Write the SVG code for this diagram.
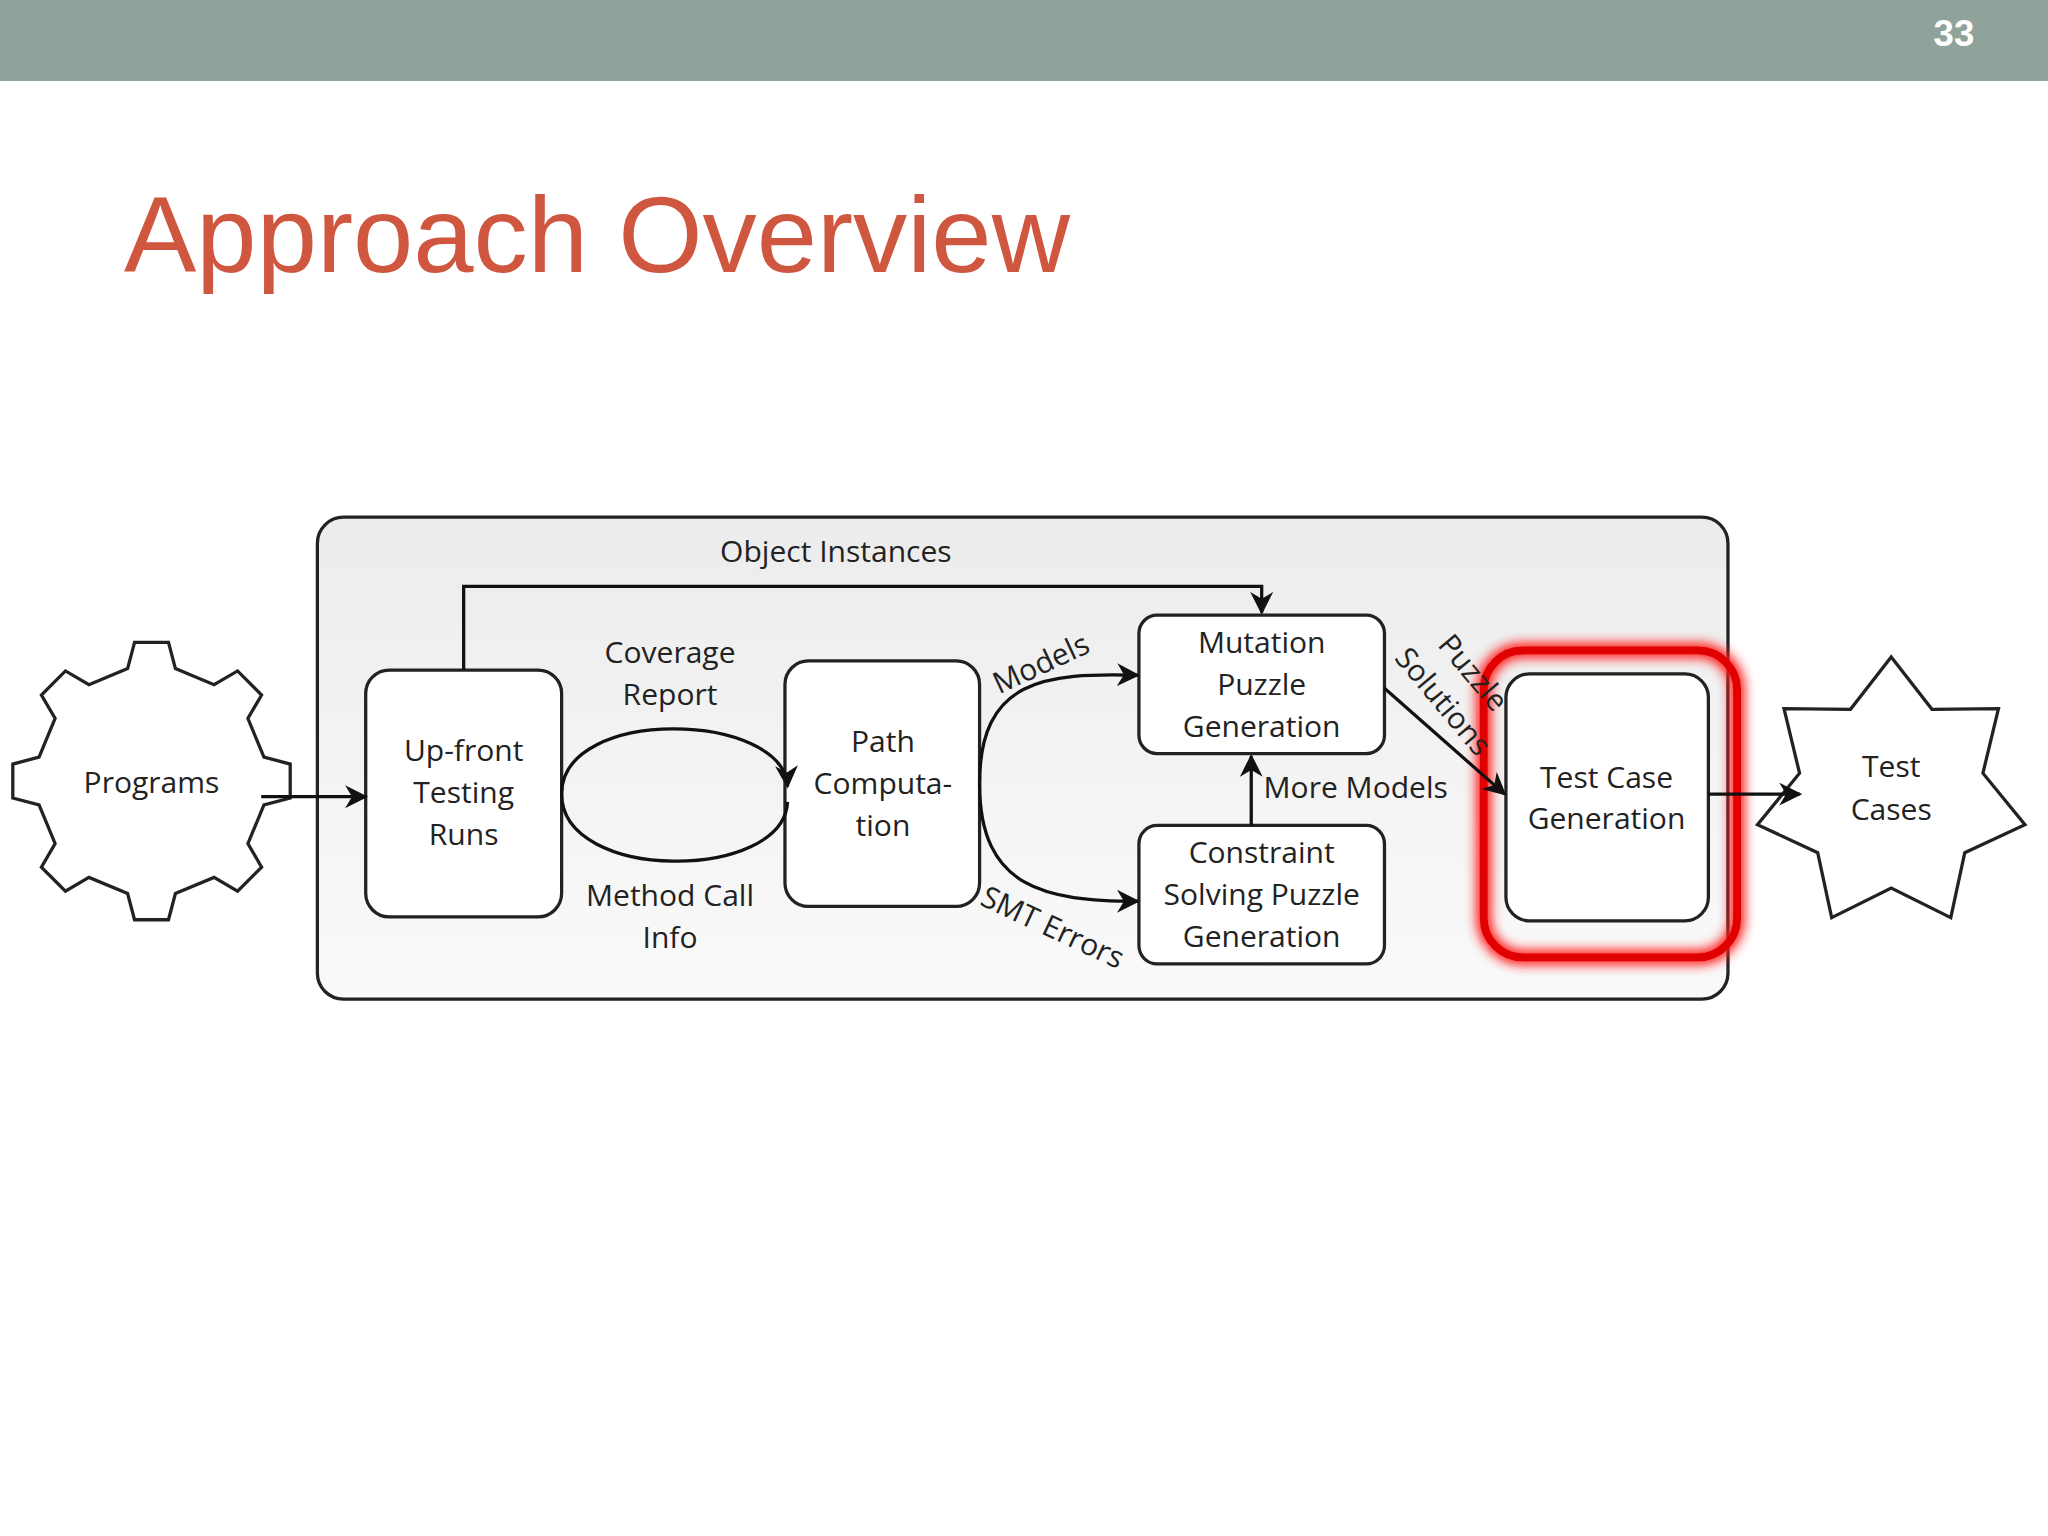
<svg xmlns="http://www.w3.org/2000/svg" width="2048" height="1536" viewBox="0 0 2048 1536">
<defs>
<linearGradient id="bg" x1="0" y1="0" x2="0" y2="1"><stop offset="0" stop-color="#ececec"/><stop offset="1" stop-color="#fafafa"/></linearGradient>
<marker id="ar" viewBox="0 0 10 10" refX="9" refY="5" markerWidth="7" markerHeight="7" orient="auto-start-reverse"><path d="M0,0 L10,5 L0,10 L3,5 z" fill="#111"/></marker>
<filter id="glow" x="-20%" y="-20%" width="140%" height="140%"><feGaussianBlur stdDeviation="4"/></filter>
</defs>
<style>
.n{fill:#fff;stroke:#222;stroke-width:2.5}
.t{font-family:"Open Sans","DejaVu Sans",sans-serif;font-size:23px;fill:#222;text-anchor:middle}
.c{fill:none;stroke:#111;stroke-width:2.5}
</style>
<rect width="2048" height="1536" fill="#fff"/>
<g transform="scale(1.3061)">
<rect x="0" y="0" width="1568" height="62" fill="#8fa39a"/>
<text x="1496" y="35" font-family="Liberation Sans,sans-serif" font-size="28" font-weight="bold" fill="#fff" text-anchor="middle">33</text>
<text x="95" y="208" font-family="Liberation Sans,Arial,sans-serif" font-size="83" fill="#d0573f">Approach Overview</text>
<g id="container"><rect x="243" y="396" width="1080" height="369" rx="20" fill="url(#bg)" stroke="#222" stroke-width="2.5"/></g>
<g id="programs">
<polygon class="n" points="97.7,511.9 103,491.8 129,491.8 134.3,511.9 163.9,524.2 181.9,513.7 200.3,532.1 189.8,550.1 202.1,579.7 222.2,585 222.2,611 202.1,616.3 189.8,645.9 200.3,663.9 181.9,682.3 163.9,671.8 134.3,684.1 129,704.2 103,704.2 97.7,684.1 68.1,671.8 50.1,682.3 31.7,663.9 42.2,645.9 29.9,616.3 9.8,611 9.8,585 29.9,579.7 42.2,550.1 31.7,532.1 50.1,513.7 68.1,524.2"/>
<text class="t" x="116" y="607">Programs</text>
</g>
<g id="upfront"><rect class="n" x="280" y="513" width="150" height="189" rx="18"/>
<text class="t" x="355" y="583">Up-front</text><text class="t" x="355" y="615">Testing</text><text class="t" x="355" y="647">Runs</text></g>
<g id="path"><rect class="n" x="601" y="506" width="149" height="188" rx="18"/>
<text class="t" x="676" y="576">Path</text><text class="t" x="676" y="608">Computa-</text><text class="t" x="676" y="640">tion</text></g>
<g id="mutation"><rect class="n" x="872" y="471" width="188" height="106" rx="14"/>
<text class="t" x="966" y="500">Mutation</text><text class="t" x="966" y="532">Puzzle</text><text class="t" x="966" y="564">Generation</text></g>
<g id="constraint"><rect class="n" x="872" y="632" width="188" height="106" rx="14"/>
<text class="t" x="966" y="661">Constraint</text><text class="t" x="966" y="693">Solving Puzzle</text><text class="t" x="966" y="725">Generation</text></g>
<g id="testgen">
<rect x="1136" y="498" width="194" height="235" rx="30" fill="none" stroke="#ff2020" stroke-width="12" filter="url(#glow)"/>
<rect x="1136" y="498" width="194" height="235" rx="30" fill="none" stroke="#e00000" stroke-width="6"/>
<rect class="n" x="1153" y="516" width="155" height="189" rx="18"/>
<text class="t" x="1230" y="603">Test Case</text><text class="t" x="1230" y="635">Generation</text></g>
<g id="testcases"><polygon class="n" points="1448,503 1479.2,543.1 1530.1,542.5 1518.2,592 1550.4,631.4 1504.3,652.9 1493.6,702.6 1448,680 1402.4,702.6 1391.7,652.9 1345.6,631.4 1377.8,592 1365.9,542.5 1416.8,543.1"/>
<text class="t" x="1448" y="595">Test</text><text class="t" x="1448" y="628">Cases</text></g>
<g id="connectors">
<path class="c" d="M200,610 H280" marker-end="url(#ar)"/>
<path class="c" d="M355,513 V449 H966 V469" marker-end="url(#ar)"/>
<path class="c" d="M430,608 C430,540 600,545 603,602" marker-end="url(#ar)"/>
<path class="c" d="M430,608 C430,676 600,675 603,614"/>
<path class="c" d="M750,600 C750,520 800,515 871,517" marker-end="url(#ar)"/>
<path class="c" d="M750,600 C750,680 800,690 871,690" marker-end="url(#ar)"/>
<path class="c" d="M958,632 V579" marker-end="url(#ar)"/>
<path class="c" d="M1060,527 L1152,608" marker-end="url(#ar)"/>
<path class="c" d="M1308,608 H1378" marker-end="url(#ar)"/>
</g>
<g id="labels">
<text class="t" x="640" y="430">Object Instances</text>
<text class="t" x="513" y="508">Coverage</text><text class="t" x="513" y="540">Report</text>
<text class="t" x="513" y="694">Method Call</text><text class="t" x="513" y="726">Info</text>
<text class="t" x="797" y="516" transform="rotate(-25 797 508)">Models</text>
<text class="t" x="806" y="718" transform="rotate(25 806 710)">SMT Errors</text>
<text class="t" x="1038" y="611">More Models</text>
<text class="t" x="1128" y="523" transform="rotate(50 1128 515)">Puzzle</text>
<text class="t" x="1105" y="545" transform="rotate(50 1105 537)">Solutions</text>
</g>
</g>
</svg>
